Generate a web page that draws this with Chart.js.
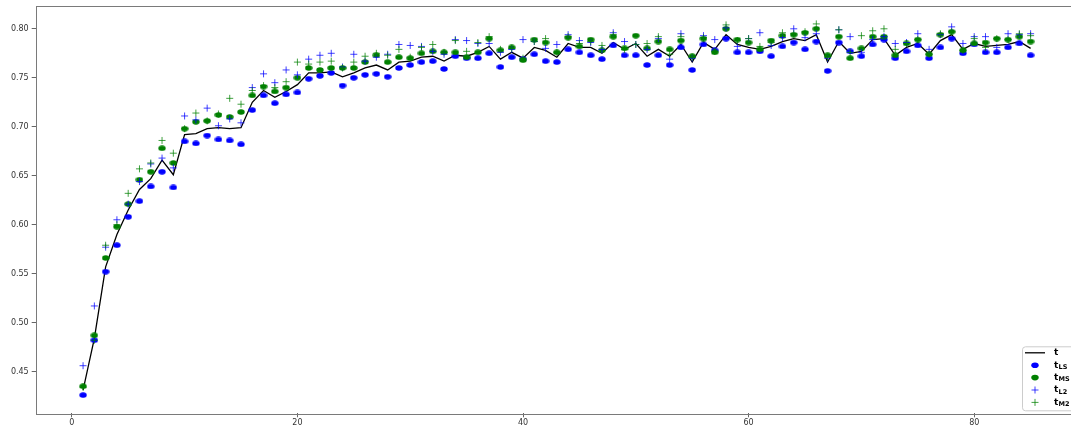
<!DOCTYPE html>
<html>
<head>
<meta charset="utf-8">
<script src="https://cdn.jsdelivr.net/npm/chart.js@4"></script>
<style>
  html, body { margin: 0; padding: 0; overflow: hidden; background: #fff; }
  #wrap { width: 1083px; height: 427px; position: relative; }
</style>
</head>
<body>
<div id="wrap"><canvas id="c" width="1083" height="427"></canvas></div>
<script>
// Epoch index on the x axis
const epochs = Array.from({ length: 85 }, (_, i) => i + 1);

// Reference curve t
const tLine = [
  0.431, 0.484, 0.557, 0.590, 0.615, 0.636, 0.647, 0.666, 0.651, 0.692,
  0.693, 0.698, 0.699, 0.698, 0.699, 0.725, 0.737, 0.730, 0.736, 0.743,
  0.755, 0.755, 0.756, 0.751, 0.755, 0.760, 0.763, 0.758, 0.766, 0.767,
  0.771, 0.772, 0.767, 0.773, 0.772, 0.776, 0.782, 0.769, 0.776, 0.770,
  0.781, 0.778, 0.771, 0.785, 0.781, 0.781, 0.775, 0.786, 0.779, 0.785,
  0.772, 0.779, 0.772, 0.784, 0.766, 0.786, 0.779, 0.794, 0.784, 0.781,
  0.779, 0.782, 0.787, 0.790, 0.788, 0.794, 0.766, 0.787, 0.775, 0.777,
  0.789, 0.790, 0.773, 0.781, 0.785, 0.774, 0.788, 0.794, 0.779, 0.785,
  0.782, 0.783, 0.784, 0.787, 0.780
];

// t_LS (blue circles)
const tLS = [
  0.426, 0.482, 0.552, 0.579, 0.608, 0.624, 0.639, 0.654, 0.638, 0.685,
  0.683, 0.691, 0.687, 0.686, 0.682, 0.717, 0.732, 0.724, 0.733, 0.735,
  0.749, 0.752, 0.755, 0.742, 0.750, 0.753, 0.754, 0.751, 0.760, 0.763,
  0.766, 0.767, 0.759, 0.772, 0.770, 0.770, 0.775, 0.761, 0.771, 0.769,
  0.774, 0.767, 0.766, 0.779, 0.776, 0.773, 0.769, 0.783, 0.773, 0.773,
  0.763, 0.773, 0.763, 0.781, 0.758, 0.784, 0.778, 0.790, 0.776, 0.776,
  0.777, 0.772, 0.782, 0.786, 0.779, 0.787, 0.757, 0.786, 0.777, 0.772,
  0.784, 0.789, 0.770, 0.777, 0.783, 0.770, 0.781, 0.790, 0.775, 0.784,
  0.776, 0.776, 0.781, 0.785, 0.773
];

// t_MS (green circles)
const tMS = [
  0.435, 0.487, 0.566, 0.598, 0.621, 0.646, 0.654, 0.678, 0.663, 0.698,
  0.705, 0.706, 0.712, 0.710, 0.715, 0.732, 0.741, 0.736, 0.740, 0.750,
  0.760, 0.758, 0.760, 0.760, 0.760, 0.766, 0.773, 0.766, 0.771, 0.770,
  0.775, 0.777, 0.776, 0.776, 0.771, 0.776, 0.790, 0.778, 0.781, 0.768,
  0.789, 0.786, 0.776, 0.791, 0.782, 0.789, 0.778, 0.792, 0.780, 0.793,
  0.780, 0.787, 0.779, 0.788, 0.772, 0.790, 0.776, 0.800, 0.789, 0.786,
  0.779, 0.788, 0.793, 0.794, 0.796, 0.800, 0.773, 0.792, 0.770, 0.780,
  0.792, 0.792, 0.773, 0.785, 0.789, 0.774, 0.794, 0.797, 0.778, 0.785,
  0.786, 0.790, 0.789, 0.792, 0.787
];

// t_L2 (blue crosses)
const tL2 = [
  0.456, 0.517, 0.577, 0.605, 0.621, 0.644, 0.662, 0.668, 0.658, 0.711,
  0.707, 0.719, 0.701, 0.708, 0.704, 0.740, 0.754, 0.745, 0.758, 0.753,
  0.769, 0.773, 0.775, 0.761, 0.774, 0.767, 0.771, 0.774, 0.784, 0.783,
  0.782, 0.777, 0.774, 0.789, 0.788, 0.785, 0.785, 0.776, 0.779, 0.789,
  0.787, 0.780, 0.784, 0.794, 0.788, 0.786, 0.779, 0.796, 0.787, 0.784,
  0.779, 0.790, 0.769, 0.795, 0.770, 0.793, 0.789, 0.801, 0.782, 0.790,
  0.796, 0.783, 0.791, 0.800, 0.791, 0.795, 0.770, 0.799, 0.792, 0.776,
  0.789, 0.792, 0.785, 0.786, 0.795, 0.779, 0.794, 0.802, 0.785, 0.792,
  0.792, 0.781, 0.795, 0.794, 0.795
];

// t_M2 (green crosses)
const tM2 = [
  0.434, 0.482, 0.579, 0.600, 0.632, 0.657, 0.663, 0.686, 0.673, 0.698,
  0.714, 0.706, 0.713, 0.729, 0.723, 0.737, 0.742, 0.740, 0.746, 0.766,
  0.764, 0.766, 0.767, 0.760, 0.766, 0.772, 0.775, 0.773, 0.779, 0.771,
  0.781, 0.784, 0.776, 0.788, 0.777, 0.786, 0.792, 0.779, 0.780, 0.770,
  0.787, 0.790, 0.776, 0.792, 0.785, 0.787, 0.783, 0.794, 0.779, 0.784,
  0.785, 0.792, 0.774, 0.792, 0.771, 0.791, 0.777, 0.804, 0.788, 0.790,
  0.782, 0.786, 0.796, 0.795, 0.797, 0.805, 0.771, 0.799, 0.776, 0.793,
  0.798, 0.800, 0.779, 0.785, 0.789, 0.774, 0.795, 0.797, 0.778, 0.790,
  0.781, 0.790, 0.789, 0.795, 0.793
];

// Axis ticks
const xTicks = [0, 20, 40, 60, 80];
const yTicks = [0.45, 0.50, 0.55, 0.60, 0.65, 0.70, 0.75, 0.80];
const yTickLabels = ['0.45', '0.50', '0.55', '0.60', '0.65', '0.70', '0.75', '0.80'];

// Legend entries: base letter + subscript
const legendItems = [
  { base: 't', sub: '', kind: 'line', color: '#000000' },
  { base: 't', sub: 'LS', kind: 'dot', color: '#0000ff' },
  { base: 't', sub: 'MS', kind: 'dot', color: '#008000' },
  { base: 't', sub: 'L2', kind: 'plus', color: 'rgba(0,0,255,0.75)' },
  { base: 't', sub: 'M2', kind: 'plus', color: 'rgba(0,128,0,0.75)' }
];

const BLUE = '#0000ff';
const GREEN = '#008000';

// Slightly flattened round marker
function dotSprite(color) {
  const c = document.createElement('canvas');
  c.width = 8; c.height = 6;
  const g = c.getContext('2d');
  g.fillStyle = color;
  g.beginPath();
  g.ellipse(4, 3, 3.7, 2.8, 0, 0, Math.PI * 2);
  g.fill();
  return c;
}
const blueDot = dotSprite(BLUE);
const greenDot = dotSprite(GREEN);

function pts(arr) { return arr.map((v, i) => ({ x: epochs[i], y: v })); }

// Full frame around the plotting area
const framePlugin = {
  id: 'frame',
  afterDatasetsDraw(chart) {
    const { ctx, chartArea: a } = chart;
    ctx.save();
    ctx.strokeStyle = '#7a7a7a';
    ctx.lineWidth = 1;
    ctx.strokeRect(Math.round(a.left) + 0.5, Math.round(a.top) + 0.5,
                   Math.round(a.right - a.left), Math.round(a.bottom - a.top));
    ctx.restore();
  }
};

// Boxed legend in the lower-right corner
const legendPlugin = {
  id: 'cornerLegend',
  afterDraw(chart) {
    const { ctx, chartArea: a } = chart;
    const w = 54, h = 64;
    const bx = a.right - w - 2, by = a.bottom - h - 3;
    ctx.save();
    ctx.beginPath();
    ctx.roundRect(bx + 0.5, by + 0.5, w, h, 3);
    ctx.fillStyle = 'rgba(255,255,255,0.85)';
    ctx.fill();
    ctx.strokeStyle = '#cccccc';
    ctx.lineWidth = 1;
    ctx.stroke();
    const row0 = by + 6.5, step = 12.4;
    const mx = bx + 13, tx = bx + 32;
    legendItems.forEach((it, k) => {
      const y = row0 + k * step;
      if (it.kind === 'line') {
        ctx.strokeStyle = it.color; ctx.lineWidth = 1.3;
        ctx.beginPath(); ctx.moveTo(bx + 3, y); ctx.lineTo(bx + 23, y); ctx.stroke();
      } else if (it.kind === 'dot') {
        ctx.fillStyle = it.color;
        ctx.beginPath(); ctx.ellipse(mx, y, 3.7, 2.8, 0, 0, Math.PI * 2); ctx.fill();
      } else {
        ctx.strokeStyle = it.color; ctx.lineWidth = 1;
        ctx.beginPath();
        ctx.moveTo(mx - 3.5, y); ctx.lineTo(mx + 3.5, y);
        ctx.moveTo(mx, y - 3.5); ctx.lineTo(mx, y + 3.5);
        ctx.stroke();
      }
      ctx.fillStyle = '#000';
      ctx.textBaseline = 'middle';
      ctx.font = 'bold 9px "DejaVu Sans"';
      ctx.fillText(it.base, tx, y);
      if (it.sub) {
        const bw = ctx.measureText(it.base).width;
        ctx.font = 'bold 6.5px "DejaVu Sans"';
        ctx.fillText(it.sub, tx + bw + 0.3, y + 2);
      }
    });
    ctx.restore();
  }
};

const tickFont = { family: '"DejaVu Sans"', size: 8 };

new Chart(document.getElementById('c'), {
  type: 'scatter',
  data: {
    datasets: [
      { label: 't', type: 'line', data: pts(tLine), borderColor: '#000', borderWidth: 1.3,
        pointRadius: 0, fill: false, tension: 0, order: 5 },
      { label: 't_LS', data: pts(tLS), pointStyle: blueDot, pointRadius: 4, order: 4 },
      { label: 't_MS', data: pts(tMS), pointStyle: greenDot, pointRadius: 4, order: 3 },
      { label: 't_L2', data: pts(tL2), pointStyle: 'cross', pointRadius: 3.5,
        borderColor: 'rgba(0,0,255,0.75)', borderWidth: 1, order: 2 },
      { label: 't_M2', data: pts(tM2), pointStyle: 'cross', pointRadius: 3.5,
        borderColor: 'rgba(0,128,0,0.75)', borderWidth: 1, order: 1 }
    ]
  },
  options: {
    responsive: false,
    animation: false,
    devicePixelRatio: 1,
    layout: { padding: { left: 0, top: 5.5, right: 5, bottom: 0 } },
    plugins: { legend: { display: false }, tooltip: { enabled: false } },
    scales: {
      x: {
        type: 'linear', min: -3.2, max: 89.2,
        afterBuildTicks(s) { s.ticks = xTicks.map(v => ({ value: v })); },
        afterFit(s) { s.height = 13.7; s.paddingLeft = 0; s.paddingRight = 0; },
        ticks: { font: tickFont, color: '#333', padding: 1, maxRotation: 0,
                 callback: v => String(v) },
        grid: { display: true, drawOnChartArea: false, drawTicks: true, tickLength: 4, color: '#666' },
        border: { display: false }
      },
      y: {
        type: 'linear', min: 0.4074, max: 0.8238,
        afterBuildTicks(s) { s.ticks = yTicks.map(v => ({ value: v })); },
        afterFit(s) { s.width = 35.7; s.paddingTop = 0; s.paddingBottom = 0; },
        ticks: { font: tickFont, color: '#333', padding: 3,
                 callback: v => yTickLabels[yTicks.findIndex(t => Math.abs(t - v) < 1e-9)] },
        grid: { display: true, drawOnChartArea: false, drawTicks: true, tickLength: 4, color: '#666' },
        border: { display: false }
      }
    }
  },
  plugins: [framePlugin, legendPlugin]
});
</script>
</body>
</html>
